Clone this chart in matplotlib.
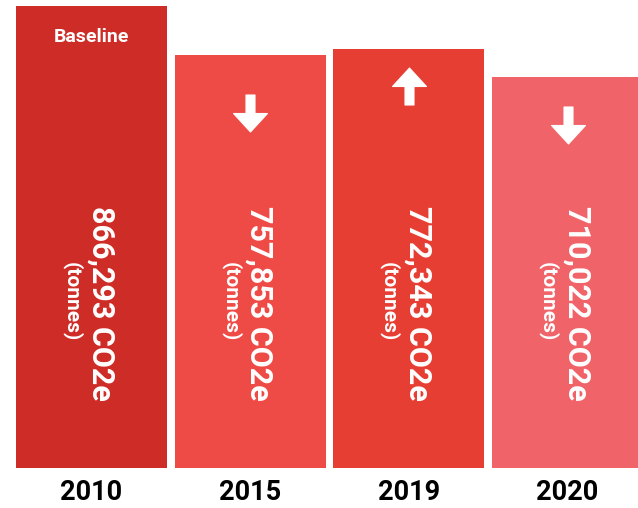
import matplotlib.pyplot as plt
import numpy as np
from matplotlib.path import Path
from matplotlib.transforms import blended_transform_factory

plt.rcParams["font.family"] = ["Roboto", "DejaVu Sans"]

# data
years = ["2010", "2015", "2019", "2020"]
emissions = [866293, 757853, 772343, 710022]  # tonnes CO2e
colors = ["#CD2C27", "#EF4B46", "#E63E33", "#EF6369"]

# layout (the original bars are not drawn from zero)
base = -145000
icon_y = [0.921, 0.7585, 0.8162, 0.7329]  # axes fraction for label / arrow

fig = plt.figure(figsize=(6.38, 5.08), dpi=100)
ax = fig.add_axes([0, 40 / 508, 1, 468 / 508])

x = np.arange(len(years))
vals = np.array(emissions)
ax.bar(x, vals - base, bottom=base, width=0.952, color=colors)

ax.set_xlim(-0.5767, 3.444)
ax.set_ylim(base, base + 468 / 0.000457)
for s in ax.spines.values():
    s.set_visible(False)
ax.set_yticks([])
ax.set_xticks(x)
ax.set_xticklabels(years, fontsize=19.5, fontweight="bold", color="black")
ax.tick_params(axis="x", length=0, pad=8)

px = 72 / 100  # points per pixel
trans = blended_transform_factory(ax.transData, ax.transAxes)

# arrow markers
down = Path([(-4.5, 18.5), (4.5, 18.5), (4.5, 0), (17, 0), (0, -18.5),
             (-17, 0), (-4.5, 0), (-4.5, 18.5)],
            [Path.MOVETO] + [Path.LINETO] * 6 + [Path.CLOSEPOLY])
up = Path(down.vertices * [1, -1], down.codes)

for i, v in enumerate(emissions):
    # value text, rotated
    ax.annotate(f"{v:,} CO2e", xy=(i, 0.3526), xycoords=trans,
                xytext=(9.5 * px, 0), textcoords="offset points",
                rotation=-90, ha="center", va="center",
                fontsize=22, fontweight="bold", color="white")
    ax.annotate("(tonnes)", xy=(i, 0.355), xycoords=trans,
                xytext=(-19.5 * px, 0), textcoords="offset points",
                rotation=-90, ha="center", va="center",
                fontsize=15, fontweight="bold", color="white")
    if i == 0:
        ax.text(i, icon_y[i], "Baseline", transform=trans,
                ha="center", va="center",
                fontsize=14, fontweight="bold", color="white")
    else:
        marker = up if v > emissions[i - 1] else down
        ax.plot([i], [icon_y[i]], transform=trans, marker=marker,
                markersize=37 * px, color="white", markeredgecolor="white",
                markeredgewidth=0.8, linestyle="none")

fig.savefig("out.png", dpi=100)
